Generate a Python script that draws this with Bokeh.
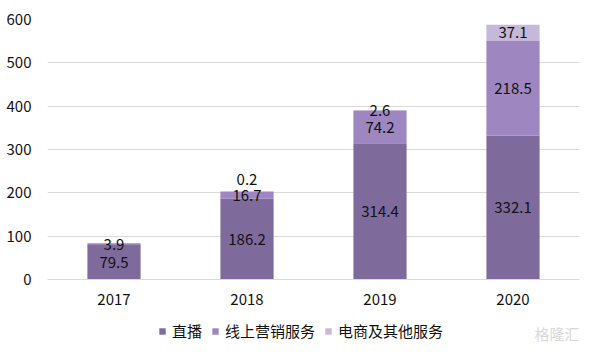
from bokeh.plotting import figure
from bokeh.models import ColumnDataSource, Legend, LegendItem, Label
from bokeh.layouts import column
from bokeh.core.properties import value
from bokeh.embed import file_html
from bokeh.resources import INLINE

years = ["2017", "2018", "2019", "2020"]
live = [79.5, 186.2, 314.4, 332.1]
marketing = [3.9, 16.7, 74.2, 218.5]
ecommerce = [0.0, 0.2, 2.6, 37.1]
series_names = ["直播", "线上营销服务", "电商及其他服务"]
colors = ["#7F6B9B", "#9E86C0", "#C5B8DA"]
y_ticks = [0, 100, 200, 300, 400, 500, 600]

FONT = "Noto Sans CJK SC"

src = ColumnDataSource(dict(x=years, live=live, marketing=marketing, ecommerce=ecommerce))

p = figure(x_range=years, y_range=(0, 600), width=598, height=317,
           output_backend="svg", toolbar_location=None,
           min_border_left=47, min_border_right=19, min_border_top=19, min_border_bottom=0)
p.frame_width = 532
p.frame_height = 260

r = p.vbar_stack(["live", "marketing", "ecommerce"], x="x", width=0.4, color=colors,
                 line_color=None, source=src)

# value labels
lx, ly, lt, loff = [], [], [], []
for i, yr in enumerate(years):
    base = 0.0
    for j, vals in enumerate([live, marketing, ecommerce]):
        v = vals[i]
        if v > 0:
            lx.append(yr)
            ly.append(base + v / 2)
            lt.append(f"{v}")
            # small top segment label lifted to avoid overlap
            loff.append(-12 if (v < 1 and j == 2) else 0)
        base += v
lsrc = ColumnDataSource(dict(x=lx, y=ly, t=lt, off=loff))
p.text(x="x", y="y", text="t", y_offset="off", source=lsrc, text_align="center",
       text_baseline="middle", text_font=value(FONT), text_font_size="15px",
       text_color="#111111")

p.yaxis.ticker = y_ticks
p.yaxis.axis_line_color = None
p.yaxis.major_tick_line_color = None
p.yaxis.minor_tick_line_color = None
p.yaxis.major_label_standoff = 10
p.yaxis.major_label_text_font = FONT
p.yaxis.major_label_text_font_size = "15px"
p.yaxis.major_label_text_color = "#111111"

p.xaxis.axis_line_color = "#D9D9D9"
p.xaxis.major_tick_line_color = None
p.xaxis.minor_tick_line_color = None
p.xaxis.major_label_standoff = 8
p.xaxis.major_label_text_font = FONT
p.xaxis.major_label_text_font_size = "15px"
p.xaxis.major_label_text_color = "#111111"

p.xgrid.grid_line_color = None
p.ygrid.grid_line_color = "#D9D9D9"
p.outline_line_color = None
p.x_range.range_padding = 0

# legend strip below the chart
lg = figure(width=598, height=40, x_range=(0, 1), y_range=(0, 1),
            x_axis_type=None, y_axis_type=None, output_backend="svg",
            toolbar_location=None, min_border=0)
lg.xgrid.grid_line_color = None
lg.ygrid.grid_line_color = None
lg.outline_line_color = None
lsw = []
for k, n in enumerate(series_names):
    lsw.append(lg.vbar(x=[-10], top=[-10], width=1, color=colors[k], line_color=None))
legend = Legend(items=[LegendItem(label=n, renderers=[lsw[k]]) for k, n in enumerate(series_names)],
                orientation="horizontal", location=(111, 6),
                label_text_font=FONT, label_text_font_size="15px", label_text_color="#111111",
                glyph_width=8, glyph_height=8, spacing=9, label_standoff=6,
                border_line_color=None, background_fill_alpha=0, padding=0, margin=0)
lg.add_layout(legend, "center")

wm = Label(x=487, y=14, x_units="screen", y_units="screen", text="格隆汇", text_font=FONT,
           text_font_size="15px", text_color="#D8D8D8", text_baseline="middle")
lg.add_layout(wm)

open("out.html", "w").write(file_html(column(p, lg, spacing=0), INLINE))
